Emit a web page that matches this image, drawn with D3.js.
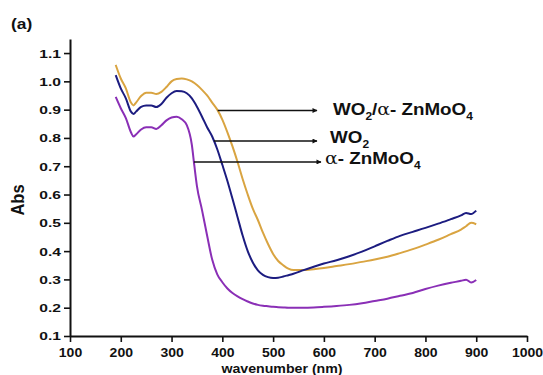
<!DOCTYPE html>
<html>
<head>
<meta charset="utf-8">
<script src="https://cdn.jsdelivr.net/npm/d3@7"></script>
<style>
  html, body { margin: 0; padding: 0; background: #fff; }
  svg { display: block; }
  text { font-family: Arial, "Liberation Sans", sans-serif; font-weight: bold; fill: #111; }
</style>
</head>
<body>
<svg id="chart" width="543" height="375"></svg>
<script>
// Wavelength grid (nm) shared by all three absorption spectra
const wavelength = [190, 200, 210, 220, 225, 230, 240, 250, 260, 270, 280, 290, 300, 310, 320, 330, 340, 345, 350, 360, 370, 380, 390, 400, 410, 420, 430, 440, 450, 460, 470, 480, 490, 500, 510, 520, 530, 540, 560, 580, 600, 625, 650, 675, 700, 725, 750, 775, 800, 825, 850, 870, 880, 890, 900];

// Absorbance of WO2/α-ZnMoO4 composite
const absComposite = [1.058, 1.010, 0.975, 0.925, 0.915, 0.925, 0.948, 0.960, 0.960, 0.955, 0.963, 0.980, 1.000, 1.008, 1.010, 1.007, 1.000, 0.994, 0.987, 0.970, 0.950, 0.925, 0.900, 0.865, 0.820, 0.770, 0.715, 0.655, 0.600, 0.550, 0.510, 0.465, 0.425, 0.390, 0.365, 0.350, 0.338, 0.333, 0.333, 0.336, 0.340, 0.347, 0.354, 0.362, 0.370, 0.380, 0.393, 0.407, 0.423, 0.440, 0.460, 0.476, 0.488, 0.500, 0.495];

// Absorbance of WO2
const absWO2 = [1.022, 0.975, 0.940, 0.893, 0.885, 0.893, 0.910, 0.915, 0.915, 0.909, 0.920, 0.942, 0.958, 0.966, 0.965, 0.958, 0.940, 0.926, 0.910, 0.875, 0.838, 0.805, 0.760, 0.705, 0.648, 0.585, 0.520, 0.455, 0.400, 0.360, 0.332, 0.316, 0.308, 0.305, 0.306, 0.310, 0.315, 0.320, 0.333, 0.345, 0.356, 0.368, 0.382, 0.398, 0.417, 0.436, 0.454, 0.468, 0.482, 0.497, 0.513, 0.526, 0.535, 0.531, 0.543];

// Absorbance of α-ZnMoO4
const absZnMoO4 = [0.945, 0.905, 0.870, 0.820, 0.805, 0.812, 0.830, 0.838, 0.838, 0.832, 0.845, 0.862, 0.872, 0.875, 0.866, 0.845, 0.775, 0.700, 0.630, 0.545, 0.455, 0.370, 0.318, 0.290, 0.268, 0.252, 0.240, 0.230, 0.222, 0.215, 0.210, 0.207, 0.205, 0.203, 0.202, 0.201, 0.200, 0.200, 0.200, 0.201, 0.203, 0.206, 0.210, 0.216, 0.224, 0.232, 0.242, 0.252, 0.266, 0.278, 0.288, 0.295, 0.299, 0.289, 0.298];

// Axis ticks
const xTicks = [100, 200, 300, 400, 500, 600, 700, 800, 900, 1000];
const xMinorTicks = [150, 250, 350, 450, 550, 650, 750, 850, 950];
const yTicks = [0.1, 0.2, 0.3, 0.4, 0.5, 0.6, 0.7, 0.8, 0.9, 1.0, 1.1];
const yMinorTicks = [0.15, 0.25, 0.35, 0.45, 0.55, 0.65, 0.75, 0.85, 0.95, 1.05, 1.15];

// Label pieces: [text, role] where role is "main", "sub" or "greek"
const labelComposite = [["WO", "main"], ["2", "sub"], ["/", "main"], ["α", "greek"], ["- ZnMoO", "main"], ["4", "sub"]];
const labelWO2 = [["WO", "main"], ["2", "sub"]];
const labelZnMoO4 = [["α", "greek"], ["- ZnMoO", "main"], ["4", "sub"]];

// Absorbance level at which each pointer leaves its curve
const pointerLevels = [0.897, 0.789, 0.715];

const series = [
  { values: absComposite, color: "#d9a441", label: labelComposite, level: pointerLevels[0], arrowEnd: 317, textX: 333, textY: 115 },
  { values: absWO2,       color: "#1c1c80", label: labelWO2,       level: pointerLevels[1], arrowEnd: 317, textX: 330, textY: 143 },
  { values: absZnMoO4,    color: "#8a2fb6", label: labelZnMoO4,    level: pointerLevels[2], arrowEnd: 321, textX: 325, textY: 164 }
];

const svg = d3.select("#chart");

const x = d3.scaleLinear().domain([100, 1000]).range([70, 527]);
const y = d3.scaleLinear().domain([0.1, 1.15]).range([336, 38.9]);

// Panel tag
svg.append("text")
  .attr("transform", "translate(11,29) scale(1.2,1)")
  .attr("font-size", 14.5)
  .text("(a)");

// Spectra
const line = d3.line()
  .x((d, i) => x(wavelength[i]))
  .y(d => y(d))
  .curve(d3.curveMonotoneX);

series.forEach(s => {
  svg.append("path")
    .attr("d", line(s.values))
    .attr("fill", "none")
    .attr("stroke", s.color)
    .attr("stroke-width", 2)
    .attr("stroke-linejoin", "round");
});

// X axis
const gx = svg.append("g").attr("transform", `translate(0,${y(0.1)})`);
gx.call(d3.axisBottom(x).tickValues(xMinorTicks).tickSize(4).tickSizeOuter(0).tickFormat(""));
gx.call(d3.axisBottom(x).tickValues(xTicks).tickSize(6).tickSizeOuter(0).tickFormat(d3.format("d")));
const sxX = 1.12;
gx.selectAll(".tick text")
  .attr("font-size", 12.5)
  .attr("font-family", "Arial, 'Liberation Sans', sans-serif")
  .attr("font-weight", "bold")
  .attr("fill", "#111")
  .attr("y", 0)
  .attr("dy", 0)
  .attr("transform", `translate(0,21) scale(${sxX},1)`);

// Y axis
const gy = svg.append("g").attr("transform", `translate(${x(100)},0)`);
gy.call(d3.axisLeft(y).tickValues(yMinorTicks).tickSize(3).tickSizeOuter(0).tickFormat(""));
gy.call(d3.axisLeft(y).tickValues(yTicks).tickSize(6).tickSizeOuter(0).tickFormat(d3.format(".1f")));
const sxY = 1.42;
gy.selectAll(".tick text")
  .attr("font-size", 11)
  .attr("font-family", "Arial, 'Liberation Sans', sans-serif")
  .attr("font-weight", "bold")
  .attr("fill", "#111")
  .attr("x", 0)
  .attr("dy", "0.36em")
  .attr("transform", `translate(-9,0) scale(${sxY},1)`);

svg.selectAll(".domain, .tick line")
  .attr("stroke", "#111")
  .attr("stroke-width", 2);
svg.selectAll(".tick line").attr("stroke-width", 1.6);

// Axis titles
svg.append("text")
  .attr("transform", "translate(282,373) scale(1.05,1)")
  .attr("text-anchor", "middle")
  .attr("font-size", 13.5)
  .text("wavenumber (nm)");

svg.append("text")
  .attr("transform", "translate(24,200) rotate(-90) scale(1,1.1)")
  .attr("text-anchor", "middle")
  .attr("font-size", 16.5)
  .text("Abs");

// Wavelength where a spectrum first falls through a level after its main peak
function crossing(values, level) {
  for (let i = 12; i < values.length - 1; i++) {
    const a = values[i], b = values[i + 1];
    if (a >= level && b < level) {
      const t = (a - level) / (a - b);
      return wavelength[i] + t * (wavelength[i + 1] - wavelength[i]);
    }
  }
  return wavelength[0];
}

// Pointer arrows and labels
const defs = svg.append("defs");
defs.append("marker")
  .attr("id", "arrowhead")
  .attr("viewBox", "0 0 10 10")
  .attr("refX", 9).attr("refY", 5)
  .attr("markerWidth", 7).attr("markerHeight", 5)
  .attr("markerUnits", "userSpaceOnUse")
  .attr("orient", "auto")
  .append("path")
  .attr("d", "M0,0 L10,5 L0,10 Z")
  .attr("fill", "#111");

series.forEach(s => {
  const yy = y(s.level);
  const x0 = x(crossing(s.values, s.level));
  svg.append("line")
    .attr("x1", x0).attr("y1", yy)
    .attr("x2", s.arrowEnd).attr("y2", yy)
    .attr("stroke", "#111")
    .attr("stroke-width", 1.6)
    .attr("marker-end", "url(#arrowhead)");

  const t = svg.append("text")
    .attr("transform", `translate(${s.textX},${s.textY}) scale(1.14,1)`)
    .attr("font-size", 16.5);
  s.label.forEach(([txt, role], i) => {
    const prevSub = i > 0 && s.label[i - 1][1] === "sub";
    const ts = t.append("tspan").text(txt);
    if (role === "sub") {
      ts.attr("font-size", 10.5).attr("dy", 5);
    } else {
      if (prevSub) ts.attr("dy", -5);
      if (role === "greek") {
        ts.attr("font-weight", "normal")
          .attr("font-family", "'DejaVu Serif', 'Liberation Serif', serif")
          .attr("font-style", "normal");
      }
    }
  });
});
</script>
</body>
</html>
